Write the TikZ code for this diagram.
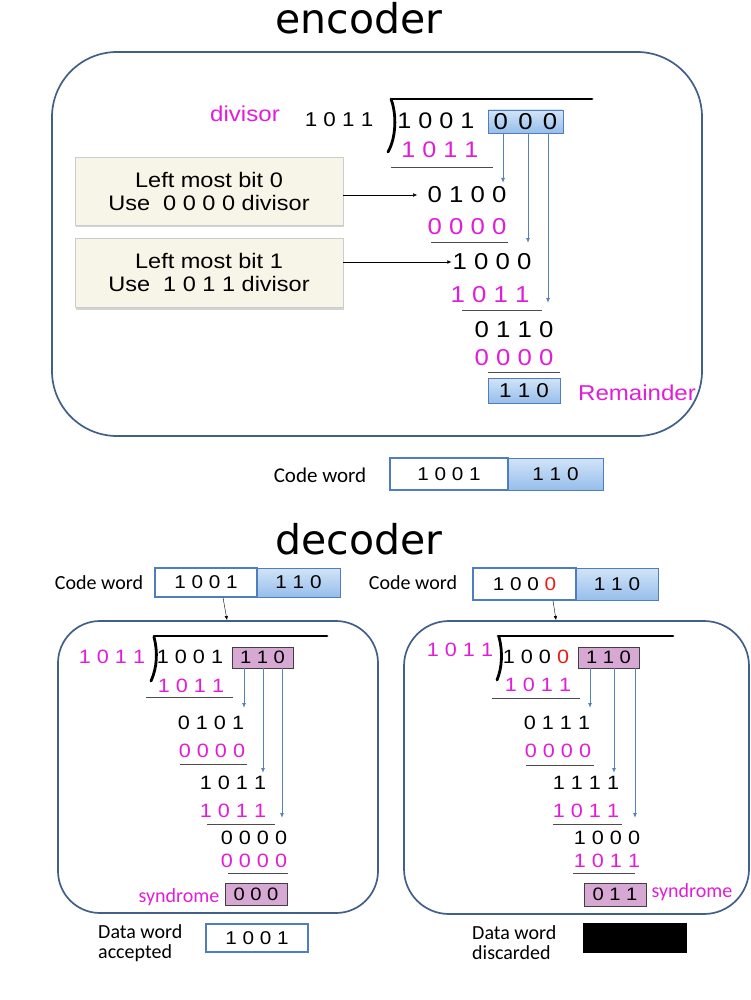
\documentclass[tikz,border=0pt]{standalone}
\usepackage{fontspec}
\setmainfont[FakeStretch=1.12]{Liberation Sans}
\newfontfamily\titlefont{DejaVu Sans}
\newfontfamily\calfont{Carlito}
\usetikzlibrary{positioning,calc,arrows.meta,shadows}
\definecolor{magen}{RGB}{225,30,215}
\definecolor{framecol}{RGB}{65,95,135}
\definecolor{arrcol}{RGB}{85,130,185}
\definecolor{boxline}{RGB}{80,125,190}
\definecolor{boxtop}{RGB}{210,228,248}
\definecolor{boxbot}{RGB}{150,190,235}
\definecolor{synfill}{RGB}{215,168,212}
\definecolor{notefill}{RGB}{247,245,232}
\definecolor{red0}{RGB}{230,30,25}
\tikzset{frame/.style={draw=framecol,line width=1.7pt,rounded corners=#1}}
\tikzset{bits/.style={inner sep=1pt,font=\fontsize{#1}{#1}\selectfont}}
\tikzset{sub/.style={bits=#1,text=magen}}
\tikzset{lab/.style={inner sep=1pt,text=magen,font=\fontsize{21.5}{22}\selectfont}}
\tikzset{cal/.style={inner sep=1pt,font=\calfont\fontsize{#1}{#1}\selectfont}}
\tikzset{bluebox/.style={draw=boxline,line width=0.8pt,top color=boxtop,bottom color=boxbot,inner sep=0pt}}
\tikzset{whitebox/.style={draw=boxline,line width=1.2pt,fill=white,inner sep=0pt}}
\tikzset{synbox/.style={draw=black!75,line width=0.8pt,fill=synfill,inner sep=0pt}}
\tikzset{note/.style={draw=black!20,fill=notefill,align=center,inner sep=0pt,
  font=\fontsize{21}{23}\selectfont,drop shadow={shadow xshift=1pt,shadow yshift=-2.5pt,opacity=0.35}}}
\tikzset{rule/.style={draw=black!70,line width=0.8pt}}
\tikzset{bracket/.style={line width=2.8pt,line cap=round}}
\tikzset{barrow/.style={draw=arrcol,line width=0.9pt,-{Latex[length=5pt,width=4pt]}}}
\tikzset{>={Latex[length=5pt,width=4pt]}}

\begin{document}
\begin{tikzpicture}[x=1pt,y=-1pt]
\useasboundingbox (0,0) rectangle (751,1000);

% encoder
\node[inner sep=0pt,font=\titlefont\fontsize{41}{41}\selectfont] (tenc) at (359,18) {encoder};
\draw[frame=65] (52,52) rectangle (702,436);

\node[lab] (dvl) at (245,114) {divisor};
\node[bits=20] (edv) at (339,120) {1 0 1 1};
\node[bits=22.5] (edd) at (436,121) {1 0 0 1};
\node[bluebox,minimum width=75,minimum height=23,font=\fontsize{23}{23}\selectfont] (ez) at (525.5,121.5) {0\hspace{0.45em}0\hspace{0.45em}0};
\draw[bracket] (392,99) -- (592,99);
\draw[bracket] (391,99) .. controls (397,115) and (396,138) .. (388,152);

\node[sub=22.5] (es1) at (440,150) {1 0 1 1};
\draw[rule] (391,167) -- (493,167);
\node[bits=23] (er1) at (467,195) {0 1 0 0};
\node[sub=23] (es2) at (467,227) {0 0 0 0};
\draw[rule] (431,242) -- (508,242);
\node[bits=23] (er2) at (492,262) {1 0 0 0};
\node[sub=23] (es3) at (490,295) {1 0 1 1};
\draw[rule] (462,310) -- (542,310);
\node[bits=23] (er3) at (514,330) {0 1 1 0};
\node[sub=23] (es4) at (514,358) {0 0 0 0};
\draw[rule] (488,372) -- (560,372);
\node[bluebox,minimum width=72,minimum height=25,font=\fontsize{20}{20}\selectfont] (erem) at (524,390.5) {1 1 0};
\node[lab] (reml) at (637,393) {Remainder};

\coordinate (ea1) at (503,183);
\coordinate (ea2) at (528,243);
\coordinate (ea3) at (548,303);
\draw[barrow] (ez.south -| ea1) -- (ea1);
\draw[barrow] (ez.south -| ea2) -- (ea2);
\draw[barrow] (ez.south -| ea3) -- (ea3);

\node[note,minimum width=268,minimum height=68] (b1) at (209,191) {Left most bit 0\\Use\ \ 0 0 0 0 divisor};
\node[note,minimum width=268,minimum height=69] (b2) at (209,272.5) {Left most bit 1\\Use\ \ 1 0 1 1 divisor};
\draw[->,>={Latex[length=4pt,width=3.5pt]}] (b1.east |- er1) -- ++(74,0);
\draw[->,>={Latex[length=4pt,width=3.5pt]}] (b2.east |- er2) -- (er2.west);

\node[cal=21] (ecw) at (320,475) {Code word};
\node[whitebox,minimum width=118,minimum height=32,font=\fontsize{18.5}{18.5}\selectfont] (ew) at (449,474) {1 0 0 1};
\node[bluebox,minimum width=95,minimum height=32,font=\fontsize{18.5}{18.5}\selectfont] (eb) at (555.5,474) {1 1 0};

% decoder
\node[inner sep=0pt,font=\titlefont\fontsize{41}{41}\selectfont] (tdec) at (359,539) {decoder};

% left: no error
\node[cal=20] (lcw) at (99,583) {Code word};
\node[whitebox,minimum width=102,minimum height=29,font=\fontsize{18.5}{18.5}\selectfont] (lw) at (206,582.5) {1 0 0 1};
\node[bluebox,minimum width=83,minimum height=29,font=\fontsize{18.5}{18.5}\selectfont] (lb) at (298.5,582.5) {1 1 0};
\coordinate (lin) at (227,620);
\draw[->,>={Latex[length=4pt,width=3.5pt]}] ($(lw.south)+(17,0)$) -- (lin);
\draw[frame=42] (58,621) rectangle (378,913);

\node[sub=19.3] (ldv) at (112,657) {1 0 1 1};
\node[bits=19.3] (ldd) at (190,657) {1 0 0 1};
\node[synbox,minimum width=61,minimum height=21,font=\fontsize{18}{18}\selectfont] (lz) at (262.5,657.5) {1 1 0};
\draw[bracket] (154,636) -- (327,636);
\draw[bracket] (154,637) .. controls (158,652) and (157,668) .. (151,681);
\node[sub=19.3] (ls1) at (191,686) {1 0 1 1};
\draw[rule] (146,697) -- (233,697);
\node[bits=19.3] (lr1) at (211,723) {0 1 0 1};
\node[sub=19.3] (ls2) at (212,751) {0 0 0 0};
\draw[rule] (180,764) -- (247,764);
\node[bits=19.3] (lr2) at (233,783) {1 0 1 1};
\node[sub=19.3] (ls3) at (233,811) {1 0 1 1};
\draw[rule] (207,824) -- (275,824);
\node[bits=19.3] (lr3) at (254,838) {0 0 0 0};
\node[sub=19.3] (ls4) at (254,861) {0 0 0 0};
\draw[rule] (228,873) -- (288,873);
\node[synbox,minimum width=62,minimum height=22,font=\fontsize{18}{18}\selectfont] (lsyn) at (256,894) {0 0 0};
\node[cal=20,text=magen] (lsynl) at (179,897) {syndrome};
\coordinate (la1) at (244,708);
\coordinate (la2) at (263,773);
\coordinate (la3) at (282,818);
\draw[barrow] (lz.south -| la1) -- (la1);
\draw[barrow] (lz.south -| la2) -- (la2);
\draw[barrow] (lz.south -| la3) -- (la3);

\node[cal=20,anchor=west,align=left] (ldw) at (97,943) {Data word\\accepted};
\node[whitebox,minimum width=102,minimum height=28,font=\fontsize{18.5}{18.5}\selectfont] (lout) at (257,938) {1 0 0 1};

% right: error in last bit
\node[cal=20] (rcw) at (413,583) {Code word};
\node[whitebox,minimum width=103,minimum height=32,font=\fontsize{18.5}{18.5}\selectfont] (rw) at (524.5,584) {1 0 0 \textcolor{red0}{0}};
\node[bluebox,minimum width=82,minimum height=32,font=\fontsize{18.5}{18.5}\selectfont] (rb) at (617,584) {1 1 0};
\coordinate (rin) at (556,620);
\draw[->,>={Latex[length=4pt,width=3.5pt]}] ($(rw.south)+(28.5,0)$) -- (rin);
\draw[frame=45] (404,621) rectangle (749,914);

\node[sub=19.3] (rdv) at (460,650) {1 0 1 1};
\node[bits=19.3] (rdd) at (536,657) {1 0 0 \textcolor{red0}{0}};
\node[synbox,minimum width=61,minimum height=21,font=\fontsize{18}{18}\selectfont] (rz) at (608.5,657.5) {1 1 0};
\draw[bracket] (498,636) -- (673,636);
\draw[bracket] (499,637) .. controls (503,652) and (502,668) .. (497,680);
\node[sub=19.3] (rs1) at (538,685) {1 0 1 1};
\draw[rule] (492,698) -- (580,698);
\node[bits=19.3] (rr1) at (557,723) {0 1 1 1};
\node[sub=19.3] (rs2) at (558,751) {0 0 0 0};
\draw[rule] (526,765) -- (594,765);
\node[bits=19.3] (rr2) at (586,783) {1 1 1 1};
\node[sub=19.3] (rs3) at (586,811) {1 0 1 1};
\draw[rule] (553,824) -- (622,824);
\node[bits=19.3] (rr3) at (607,838) {1 0 0 0};
\node[sub=19.3] (rs4) at (607,861) {1 0 1 1};
\draw[rule] (573,873) -- (635,873);
\node[synbox,minimum width=62,minimum height=23,font=\fontsize{18}{18}\selectfont] (rsyn) at (615,894.5) {0 1 1};
\node[cal=20,text=magen] (rsynl) at (692,892) {syndrome};
\coordinate (ra1) at (590,708);
\coordinate (ra2) at (614,773);
\coordinate (ra3) at (635,818);
\draw[barrow] (rz.south -| ra1) -- (ra1);
\draw[barrow] (rz.south -| ra2) -- (ra2);
\draw[barrow] (rz.south -| ra3) -- (ra3);

\node[cal=20,anchor=west,align=left] (rdw) at (471,943) {Data word\\discarded};
\node[fill=black,minimum width=104,minimum height=30,inner sep=0pt] (rout) at (635,938) {};
\end{tikzpicture}
\end{document}
